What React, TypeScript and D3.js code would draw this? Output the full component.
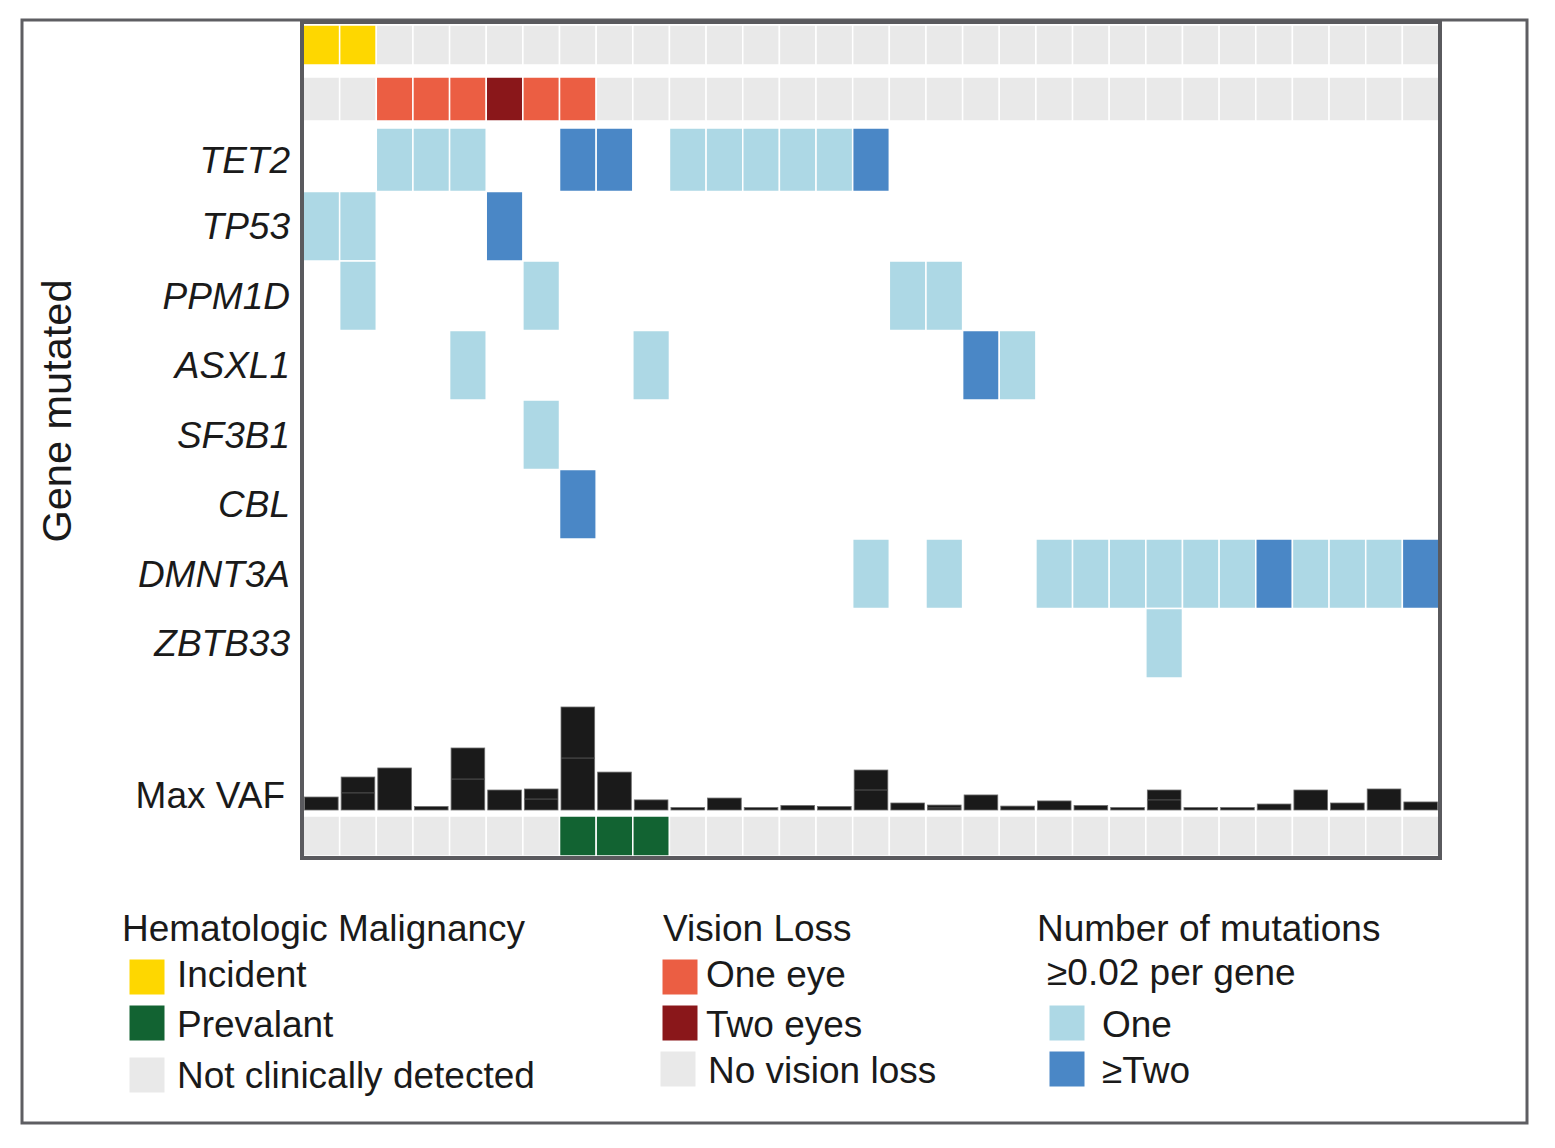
import React from 'react';
import * as d3 from 'd3';

// one column per participant
const participants: number[] = d3.range(31);

// hematologic malignancy: top row = incident, bottom row = prevalent
const incident: number[] = [1, 1, 0, 0, 0, 0, 0, 0, 0, 0, 0, 0, 0, 0, 0, 0, 0, 0, 0, 0, 0, 0, 0, 0, 0, 0, 0, 0, 0, 0, 0];
const prevalent: number[] = [0, 0, 0, 0, 0, 0, 0, 1, 1, 1, 0, 0, 0, 0, 0, 0, 0, 0, 0, 0, 0, 0, 0, 0, 0, 0, 0, 0, 0, 0, 0];

// vision loss: 0 none, 1 one eye, 2 two eyes
const visionLoss: number[] = [0, 0, 1, 1, 1, 2, 1, 1, 0, 0, 0, 0, 0, 0, 0, 0, 0, 0, 0, 0, 0, 0, 0, 0, 0, 0, 0, 0, 0, 0, 0];

const genes: string[] = ['TET2', 'TP53', 'PPM1D', 'ASXL1', 'SF3B1', 'CBL', 'DMNT3A', 'ZBTB33'];

// number of mutations >=0.02 per gene (0, 1, 2 = two or more)
const TET2: number[] = [0, 0, 1, 1, 1, 0, 0, 2, 2, 0, 1, 1, 1, 1, 1, 2, 0, 0, 0, 0, 0, 0, 0, 0, 0, 0, 0, 0, 0, 0, 0];
const TP53: number[] = [1, 1, 0, 0, 0, 2, 0, 0, 0, 0, 0, 0, 0, 0, 0, 0, 0, 0, 0, 0, 0, 0, 0, 0, 0, 0, 0, 0, 0, 0, 0];
const PPM1D: number[] = [0, 1, 0, 0, 0, 0, 1, 0, 0, 0, 0, 0, 0, 0, 0, 0, 1, 1, 0, 0, 0, 0, 0, 0, 0, 0, 0, 0, 0, 0, 0];
const ASXL1: number[] = [0, 0, 0, 0, 1, 0, 0, 0, 0, 1, 0, 0, 0, 0, 0, 0, 0, 0, 2, 1, 0, 0, 0, 0, 0, 0, 0, 0, 0, 0, 0];
const SF3B1: number[] = [0, 0, 0, 0, 0, 0, 1, 0, 0, 0, 0, 0, 0, 0, 0, 0, 0, 0, 0, 0, 0, 0, 0, 0, 0, 0, 0, 0, 0, 0, 0];
const CBL: number[] = [0, 0, 0, 0, 0, 0, 0, 2, 0, 0, 0, 0, 0, 0, 0, 0, 0, 0, 0, 0, 0, 0, 0, 0, 0, 0, 0, 0, 0, 0, 0];
const DMNT3A: number[] = [0, 0, 0, 0, 0, 0, 0, 0, 0, 0, 0, 0, 0, 0, 0, 1, 0, 1, 0, 0, 1, 1, 1, 1, 1, 1, 2, 1, 1, 1, 2];
const ZBTB33: number[] = [0, 0, 0, 0, 0, 0, 0, 0, 0, 0, 0, 0, 0, 0, 0, 0, 0, 0, 0, 0, 0, 0, 0, 1, 0, 0, 0, 0, 0, 0, 0];
const geneRows: number[][] = [TET2, TP53, PPM1D, ASXL1, SF3B1, CBL, DMNT3A, ZBTB33];

// max VAF per participant, and the lower stacked part where two are drawn
const maxVaf: number[] = [0.063, 0.16, 0.204, 0.017, 0.301, 0.097, 0.102, 0.5, 0.184, 0.049, 0.012, 0.058, 0.012, 0.022, 0.017, 0.194, 0.034, 0.024, 0.073, 0.019, 0.044, 0.022, 0.012, 0.097, 0.012, 0.012, 0.029, 0.097, 0.034, 0.102, 0.039];
const lowerVaf: number[] = [0, 0.083, 0, 0, 0.15, 0, 0.053, 0.252, 0, 0, 0, 0, 0, 0, 0, 0.097, 0, 0.01, 0, 0, 0, 0, 0, 0.049, 0, 0, 0, 0, 0, 0, 0];

const GRAY = '#e9e9e9';
const hemeColors = { incident: '#fed700', prevalent: '#126332' };
const visionColors = ['#e9e9e9', '#eb5e43', '#8a171a'];
const mutColors = ['none', '#add8e5', '#4a87c6'];
const FONT = '"Liberation Sans", Arial, Helvetica, sans-serif';
const FS = 37;

const App: React.FC = () => {
    const width = 1555;
    const height = 1148;

    const x = d3.scaleBand<number>().domain(participants).range([303, 1439]).paddingInner(0);
    const y = d3.scaleBand<string>().domain(genes).range([122, 678]).paddingInner(0);
    const vafY = d3.scaleLinear().domain([0, 0.5]).range([810, 707]);

    const cell = (i: number, y0: number, y1: number, fill: string, key: string) => (
        <rect key={key} x={x(i)} y={y0} width={x.bandwidth()} height={y1 - y0}
            fill={fill} stroke="#ffffff" strokeWidth={1.5} />
    );

    const legendItem = (sx: number, sy: number, tx: number, ty: number, fill: string, label: string) => (
        <g key={label}>
            <rect x={sx} y={sy} width={36} height={36} fill={fill} stroke="#ffffff" strokeWidth={1} />
            <text x={tx} y={ty} fontSize={FS} fontFamily={FONT} fill="#1a1a1a">{label}</text>
        </g>
    );

    return (
        <svg width={width} height={height} style={{ position: 'absolute', left: 0, top: 0, background: '#fff' }}>
            <rect x={22} y={20} width={1505} height={1103} fill="#fff" stroke="#5e5e62" strokeWidth={3} />

            {/* incident row */}
            {participants.map((p) => cell(p, 25, 65, incident[p] ? hemeColors.incident : GRAY, `inc${p}`))}
            {/* vision loss row */}
            {participants.map((p) => cell(p, 77, 121, visionColors[visionLoss[p]], `vis${p}`))}

            {/* gene rows */}
            {genes.map((g, gi) =>
                participants.map((p) => {
                    const n = geneRows[gi][p];
                    if (!n) return null;
                    const y0 = Math.max(y(g) as number, 128);
                    return cell(p, y0, (y(g) as number) + y.bandwidth(), mutColors[n], `${g}${p}`);
                })
            )}

            {/* Max VAF bars */}
            {participants.map((p) => {
                const bx = (x(p) as number) + 1.5;
                const bw = x.bandwidth() - 3;
                const top = vafY(maxVaf[p]);
                return (
                    <g key={`vaf${p}`}>
                        <rect x={bx} y={top} width={bw} height={810 - top} fill="#1a1a1a" stroke="#6e6e6e" strokeWidth={0.8} />
                        {lowerVaf[p] > 0 && (
                            <line x1={bx} x2={bx + bw} y1={vafY(lowerVaf[p])} y2={vafY(lowerVaf[p])} stroke="#555" strokeWidth={1} />
                        )}
                    </g>
                );
            })}

            {/* prevalent row */}
            {participants.map((p) => cell(p, 816, 856, prevalent[p] ? hemeColors.prevalent : GRAY, `prev${p}`))}

            <rect x={302} y={22} width={1138} height={836} fill="none" stroke="#5a5a5e" strokeWidth={4} />

            {/* row labels */}
            {genes.map((g) => {
                const y0 = Math.max(y(g) as number, 128);
                const cy = (y0 + (y(g) as number) + y.bandwidth()) / 2;
                return (
                    <text key={`lab${g}`} x={290} y={cy + 13} textAnchor="end" fontSize={FS}
                        fontStyle="italic" fontFamily={FONT} fill="#1a1a1a">{g}</text>
                );
            })}
            <text x={285} y={808} textAnchor="end" fontSize={FS} fontFamily={FONT} fill="#1a1a1a">Max VAF</text>
            <text transform="translate(71,411) rotate(-90)" textAnchor="middle" fontSize={41.5}
                fontFamily={FONT} fill="#1a1a1a">Gene mutated</text>

            {/* legends */}
            <text x={122} y={941} fontSize={FS} fontFamily={FONT} fill="#1a1a1a">Hematologic Malignancy</text>
            {legendItem(129, 959, 177, 987, hemeColors.incident, 'Incident')}
            {legendItem(129, 1005, 177, 1037, hemeColors.prevalent, 'Prevalant')}
            {legendItem(129, 1057, 177, 1088, GRAY, 'Not clinically detected')}

            <text x={663} y={941} fontSize={FS} fontFamily={FONT} fill="#1a1a1a">Vision Loss</text>
            {legendItem(662, 959, 706, 987, visionColors[1], 'One eye')}
            {legendItem(662, 1005, 706, 1037, visionColors[2], 'Two eyes')}
            {legendItem(660, 1051, 708, 1083, GRAY, 'No vision loss')}

            <text x={1037} y={941} fontSize={FS} fontFamily={FONT} fill="#1a1a1a">Number of mutations</text>
            <text x={1047} y={985} fontSize={FS} fontFamily={FONT} fill="#1a1a1a">≥0.02 per gene</text>
            {legendItem(1049, 1005, 1102, 1037, mutColors[1], 'One')}
            {legendItem(1049, 1051, 1102, 1083, mutColors[2], '≥Two')}
        </svg>
    );
};

export default App;
